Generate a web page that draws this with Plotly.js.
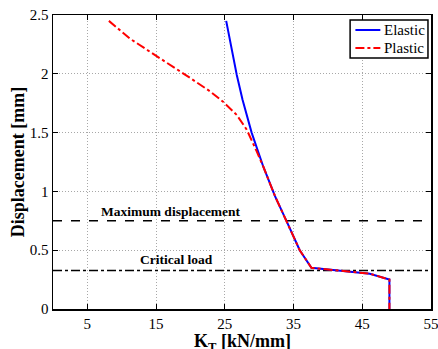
<!DOCTYPE html>
<html>
<head>
<meta charset="utf-8">
<script src="https://cdn.plot.ly/plotly-3.0.1.min.js"></script>
<style>html,body{margin:0;padding:0;background:#fff;}#chart{width:438px;height:349px;}</style>
</head>
<body>
<div id="chart"></div>
<script>
// Elastic curve: stiffness K_T [kN/mm] vs displacement [mm]
const elasticK  = [25.2, 25.98, 26.74, 27.58, 28.9, 30.6, 32.3, 34.0, 35.9, 37.6, 41.7, 45.1, 46.1, 48.95, 48.95];
const elasticD  = [2.45, 2.20, 1.99, 1.78, 1.50, 1.21, 0.96, 0.745, 0.50, 0.35, 0.326, 0.306, 0.30, 0.25, 0.0];
// Plastic curve
const plasticK  = [8.13, 11.17, 14.17, 17.07, 19.97, 22.87, 24.8, 26.74, 28.19, 29.64, 30.6, 32.3, 34.0, 35.9, 37.6, 41.7, 45.1, 46.1, 48.95, 48.95];
const plasticD  = [2.45, 2.30, 2.185, 2.077, 1.964, 1.85, 1.76, 1.65, 1.525, 1.34, 1.21, 0.96, 0.745, 0.50, 0.35, 0.326, 0.306, 0.30, 0.25, 0.0];
// Reference levels
const refSpan = [0, 55];
const maxDisplacement = 0.75;
const criticalLoad = 0.328;
const xTicks = [5, 15, 25, 35, 45, 55];
const yTicks = [0, 0.5, 1, 1.5, 2, 2.5];
const yTickText = ['0', '0.5', '1', '1.5', '2', '2.5'];
const seriesNames = ['Elastic', 'Plastic'];

const serif = 'Liberation Serif, Times New Roman, serif';

const traces = [
  {x: refSpan, y: [maxDisplacement, maxDisplacement], mode: 'lines', showlegend: false,
   line: {color: '#000', width: 1.5, dash: 'dash'}, hoverinfo: 'skip'},
  {x: refSpan, y: [criticalLoad, criticalLoad], mode: 'lines', showlegend: false,
   line: {color: '#000', width: 1.5, dash: 'dashdot'}, hoverinfo: 'skip'},
  {x: elasticK, y: elasticD, mode: 'lines', name: seriesNames[0], showlegend: false,
   line: {color: '#0000ff', width: 2}},
  {x: plasticK, y: plasticD, mode: 'lines', name: seriesNames[1], showlegend: false,
   line: {color: '#ff0000', width: 2, dash: 'dashdot'}}
];

const axisCommon = {
  showline: true, linecolor: '#000', linewidth: 1.5, mirror: 'ticks',
  ticks: 'inside', ticklen: 5, tickcolor: '#000', tickwidth: 1,
  showgrid: true, gridcolor: '#a8a8a8', griddash: '1px,2px', gridwidth: 1,
  zeroline: false, tickfont: {family: serif, size: 15, color: '#000'},
  ticklabeloverflow: 'allow'
};

// manual legend (paper coordinates)
const lg = {x0: 0.786, x1: 0.992, y0: 0.854, y1: 0.983, sx0: 0.800, sx1: 0.866, tx: 0.870, rows: [0.949, 0.888]};

const layout = {
  width: 438, height: 349,
  margin: {l: 53, r: 7, t: 15, b: 40},
  paper_bgcolor: '#fff', plot_bgcolor: '#fff',
  font: {family: serif, color: '#000'},
  showlegend: false,
  xaxis: Object.assign({}, axisCommon, {
    range: [0, 55], tickvals: xTicks, ticktext: xTicks.map(String)
  }),
  yaxis: Object.assign({}, axisCommon, {
    range: [0, 2.5], tickvals: yTicks, ticktext: yTickText,
    title: {text: '<b>Displacement [mm]</b>', font: {family: serif, size: 18, color: '#000'}, standoff: 0}
  }),
  shapes: [
    {type: 'rect', xref: 'paper', yref: 'paper', x0: lg.x0, x1: lg.x1, y0: lg.y0, y1: lg.y1,
     line: {color: '#000', width: 1.5}, fillcolor: '#fff', layer: 'above'},
    {type: 'line', xref: 'paper', yref: 'paper', x0: lg.sx0, x1: lg.sx1, y0: lg.rows[0], y1: lg.rows[0],
     line: {color: '#0000ff', width: 2}, layer: 'above'},
    {type: 'line', xref: 'paper', yref: 'paper', x0: lg.sx0, x1: lg.sx1, y0: lg.rows[1], y1: lg.rows[1],
     line: {color: '#ff0000', width: 2, dash: 'dashdot'}, layer: 'above'}
  ],
  annotations: [
    {x: 0.5, y: -0.071, xref: 'paper', yref: 'paper', xanchor: 'center', yanchor: 'top',
     text: '<b>K<sub>T</sub> [kN/mm]</b>', showarrow: false, borderpad: 0,
     font: {family: serif, size: 18, color: '#000'}},
    {x: 17.1, y: 0.83, xref: 'x', yref: 'y', text: '<b>Maximum displacement</b>', showarrow: false,
     font: {family: serif, size: 13.5, color: '#000'}},
    {x: 17.9, y: 0.42, xref: 'x', yref: 'y', text: '<b>Critical load</b>', showarrow: false,
     font: {family: serif, size: 13.5, color: '#000'}},
    {x: lg.tx, y: lg.rows[0], xref: 'paper', yref: 'paper', xanchor: 'left', yanchor: 'middle',
     text: seriesNames[0], showarrow: false, font: {family: serif, size: 15, color: '#000'}},
    {x: lg.tx, y: lg.rows[1], xref: 'paper', yref: 'paper', xanchor: 'left', yanchor: 'middle',
     text: seriesNames[1], showarrow: false, font: {family: serif, size: 15, color: '#000'}}
  ]
};

Plotly.newPlot('chart', traces, layout, {displayModeBar: false, staticPlot: true});
</script>
</body>
</html>
